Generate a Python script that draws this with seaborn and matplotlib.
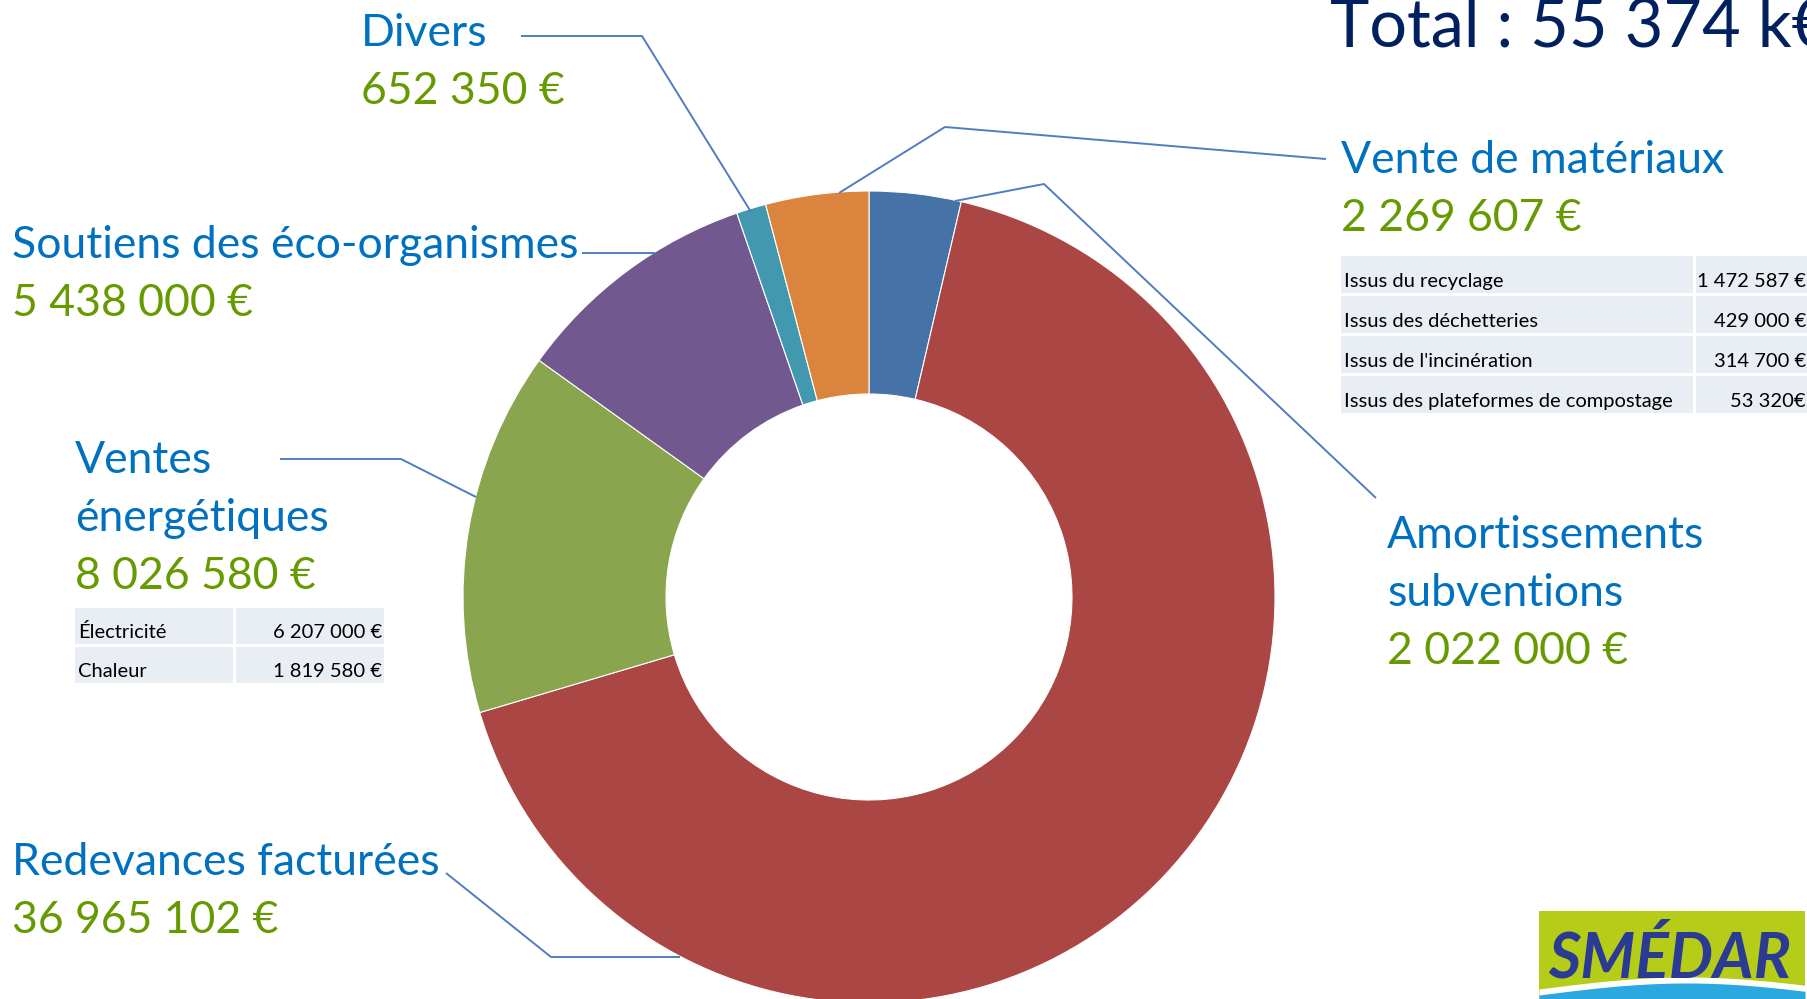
import matplotlib.pyplot as plt
from matplotlib.patches import Rectangle
import numpy as np
import seaborn as sns

# Recettes du SMEDAR - anneau de répartition
sns.set_theme(style="white")
plt.rcParams['font.family'] = ['Lato', 'DejaVu Sans']

# données (sens horaire depuis midi)
categories = ["Amortissements\nsubventions", "Redevances facturées", "Ventes\nénergétiques",
              "Soutiens des éco-organismes", "Divers", "Vente de matériaux"]
values = [2022000, 36965102, 8026580, 5438000, 652350, 2269607]
slice_colors = ["#4572A7", "#AA4643", "#89A54E", "#71588F", "#4198AF", "#DB843D"]

energie_items = ["Électricité", "Chaleur"]
energie_amounts = ["6 207 000 €", "1 819 580 €"]
materiaux_items = ["Issus du recyclage", "Issus des déchetteries",
                   "Issus de l'incinération", "Issus des plateformes de compostage"]
materiaux_amounts = ["1 472 587 €", "429 000 €", "314 700 €", "53 320€"]

# mise en page (pixels)
label_pos = [(1387, 548), (12, 875), (75, 473), (12, 258), (361, 46), (1341, 173)]
leaders = [
    [(1376, 498), (1044, 184), (955, 201)],
    [(446, 873), (551, 957), (680, 957)],
    [(280, 459), (401, 459), (476, 497)],
    [(582, 253), (655, 253)],
    [(521, 36), (642, 36), (751, 212)],
    [(1326, 159), (945, 127), (839, 193)],
]
BLUE = "#0070C0"
GREEN = "#669A00"
LINE = "#4F7DC0"
CELL = "#E9EDF4"
LH = 58

fig = plt.figure(figsize=(18.08, 9.99), dpi=100)
ax = fig.add_axes([0, 0, 1, 1])

ax.pie(values, colors=slice_colors, startangle=-90, counterclock=True,
       center=(869, 597), radius=406,
       wedgeprops=dict(width=203, edgecolor="white", linewidth=0.8))
ax.set_xlim(0, 1808)
ax.set_ylim(999, 0)
ax.set_aspect("equal")
ax.axis("off")

for cat, v, (x, y), path in zip(categories, values, label_pos, leaders):
    lines = cat.split("\n")
    for i, t in enumerate(lines):
        ax.text(x, y + i * LH, t, color=BLUE, fontsize=32, va="baseline", ha="left")
    amount = f"{v:,}".replace(",", " ") + " €"
    ax.text(x, y + len(lines) * LH, amount, color=GREEN, fontsize=32,
            va="baseline", ha="left")
    xs, ys = zip(*path)
    ax.plot(xs, ys, color=LINE, lw=1.4, solid_capstyle="butt")


def small_table(x0, x_split, x1, y0, row_h, items, amounts):
    for i, (item, amt) in enumerate(zip(items, amounts)):
        top = y0 + i * (row_h + 3)
        ax.add_patch(Rectangle((x0, top), x_split - x0, row_h, color=CELL, lw=0))
        ax.add_patch(Rectangle((x_split + 3, top), x1 - x_split - 3, row_h, color=CELL, lw=0))
        ax.text(x0 + 3, top + row_h - 6, item, fontsize=14.5, color="black", va="baseline")
        ax.text(x1 - 2, top + row_h - 6, amt, fontsize=14.5, color="black",
                va="baseline", ha="right")


small_table(75, 233, 384, 608, 36, energie_items, energie_amounts)
small_table(1341, 1693, 1808, 256, 37, materiaux_items, materiaux_amounts)

total_k = round(sum(values) / 1000)
ax.text(1330, 46, "Total : " + f"{total_k:,}".replace(",", " ") + " k€",
        color="#002060", fontsize=48, va="baseline", ha="left")

# logo
ax.add_patch(Rectangle((1539, 911), 266, 88, color="#B5CC18", lw=0))
wx = np.linspace(1539, 1805, 60)
wave = 994 - 12 * np.sin((wx - 1539) / 266 * np.pi * 0.9)
ax.fill_between(wx, wave - 5, 999, color="white", lw=0)
ax.fill_between(wx, wave + 1, 999, color="#2AA8E0", lw=0)
ax.text(1670, 978, "SMÉDAR", color="#2B3A93", fontsize=45, fontweight="bold",
        fontstyle="italic", ha="center", va="baseline")

fig.savefig("out.png", dpi=100)
